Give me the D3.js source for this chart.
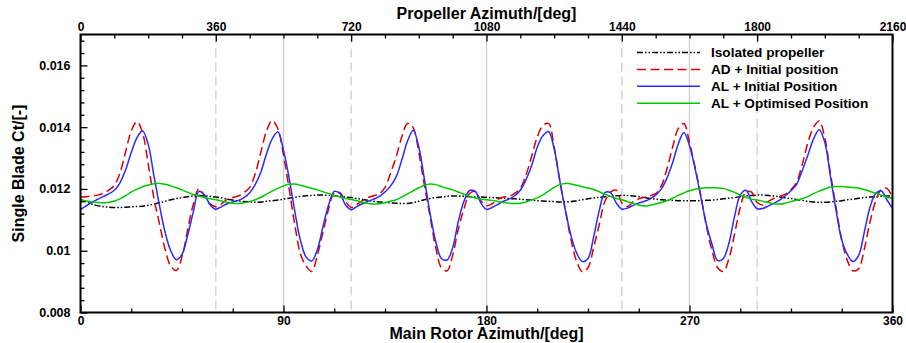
<!DOCTYPE html>
<html>
<head>
<meta charset="utf-8">
<script src="https://cdn.jsdelivr.net/npm/d3@7"></script>
<style>
  html, body { margin: 0; padding: 0; background: #fff; }
  svg { display: block; font-family: "Liberation Sans", Arial, Helvetica, sans-serif; font-weight: bold; }
</style>
</head>
<body>
<svg id="chart" width="906" height="343"></svg>
<script>
// Main rotor azimuth grid [deg], one sample every 2.5 deg
const rotorAzimuth = d3.range(0, 360.001, 2.5);

// Single blade thrust coefficient, one row per 60 deg of main rotor azimuth
const isolatedPropeller = [
  0.01166,0.01158,0.01151,0.01146,0.01143,0.01141,0.01140,0.01140,0.01141,0.01142,0.01143,0.01144,0.01147,0.01151,0.01155,0.01160,0.01165,0.01169,0.01172,0.01175,0.01177,0.01179,0.01178,0.01176,
  0.01174,0.01171,0.01167,0.01164,0.01161,0.01159,0.01158,0.01157,0.01158,0.01160,0.01162,0.01164,0.01167,0.01170,0.01173,0.01176,0.01178,0.01179,0.01180,0.01180,0.01179,0.01178,0.01176,0.01174,
  0.01172,0.01169,0.01166,0.01163,0.01160,0.01158,0.01156,0.01155,0.01154,0.01153,0.01153,0.01156,0.01160,0.01165,0.01169,0.01172,0.01174,0.01176,0.01177,0.01177,0.01176,0.01175,0.01174,0.01174,
  0.01173,0.01172,0.01171,0.01170,0.01169,0.01168,0.01167,0.01165,0.01164,0.01162,0.01161,0.01160,0.01159,0.01158,0.01158,0.01159,0.01162,0.01165,0.01168,0.01171,0.01173,0.01175,0.01177,0.01178,
  0.01179,0.01179,0.01177,0.01175,0.01172,0.01169,0.01167,0.01165,0.01164,0.01163,0.01162,0.01162,0.01162,0.01162,0.01162,0.01163,0.01164,0.01166,0.01168,0.01170,0.01172,0.01175,0.01177,0.01179,
  0.01180,0.01180,0.01179,0.01177,0.01174,0.01171,0.01169,0.01166,0.01163,0.01160,0.01158,0.01157,0.01157,0.01158,0.01160,0.01162,0.01165,0.01167,0.01170,0.01172,0.01174,0.01175,0.01176,0.01177,
  0.01178
];

const adInitial = [
  0.01174,0.01175,0.01177,0.01180,0.01186,0.01196,0.01212,0.01252,0.01320,0.01388,0.01418,0.01382,0.01282,0.01172,0.01088,0.01005,0.00950,0.00936,0.00980,0.01068,0.01150,0.01200,0.01178,0.01152,
  0.01142,0.01152,0.01166,0.01172,0.01177,0.01188,0.01205,0.01250,0.01320,0.01388,0.01422,0.01395,0.01310,0.01200,0.01085,0.00990,0.00950,0.00933,0.00985,0.01060,0.01135,0.01188,0.01188,0.01160,
  0.01140,0.01150,0.01162,0.01172,0.01178,0.01184,0.01205,0.01252,0.01305,0.01370,0.01412,0.01398,0.01318,0.01210,0.01110,0.01010,0.00945,0.00935,0.00985,0.01070,0.01135,0.01185,0.01192,0.01162,
  0.01146,0.01152,0.01166,0.01174,0.01176,0.01186,0.01202,0.01245,0.01305,0.01368,0.01405,0.01412,0.01335,0.01228,0.01130,0.01035,0.00965,0.00932,0.00945,0.01010,0.01085,0.01160,0.01190,0.01196,
  0.01155,0.01143,0.01158,0.01168,0.01173,0.01178,0.01185,0.01210,0.01265,0.01335,0.01395,0.01412,0.01350,0.01270,0.01180,0.01080,0.01000,0.00945,0.00933,0.00975,0.01055,0.01140,0.01190,0.01190,
  0.01156,0.01148,0.01160,0.01170,0.01176,0.01183,0.01198,0.01222,0.01280,0.01350,0.01400,0.01420,0.01365,0.01250,0.01140,0.01035,0.00968,0.00935,0.00942,0.01005,0.01092,0.01160,0.01198,0.01202,
  0.01172
];

const alInitial = [
  0.01133,0.01145,0.01157,0.01166,0.01175,0.01184,0.01196,0.01220,0.01262,0.01318,0.01365,0.01388,0.01345,0.01245,0.01147,0.01060,0.01000,0.00971,0.00988,0.01050,0.01125,0.01192,0.01180,0.01148,
  0.01134,0.01143,0.01152,0.01158,0.01163,0.01172,0.01188,0.01215,0.01255,0.01315,0.01362,0.01385,0.01325,0.01235,0.01128,0.01034,0.00980,0.00967,0.01003,0.01078,0.01148,0.01192,0.01185,0.01148,
  0.01133,0.01143,0.01152,0.01160,0.01167,0.01176,0.01190,0.01210,0.01240,0.01295,0.01355,0.01390,0.01335,0.01230,0.01120,0.01030,0.00975,0.00970,0.01010,0.01095,0.01160,0.01195,0.01192,0.01155,
  0.01134,0.01140,0.01150,0.01160,0.01167,0.01178,0.01196,0.01230,0.01275,0.01335,0.01372,0.01386,0.01330,0.01225,0.01130,0.01048,0.00992,0.00965,0.00975,0.01045,0.01130,0.01188,0.01188,0.01155,
  0.01135,0.01138,0.01147,0.01154,0.01160,0.01168,0.01180,0.01200,0.01235,0.01285,0.01345,0.01383,0.01340,0.01265,0.01175,0.01085,0.01020,0.00968,0.00975,0.01025,0.01112,0.01180,0.01196,0.01160,
  0.01136,0.01137,0.01145,0.01154,0.01164,0.01178,0.01194,0.01215,0.01260,0.01310,0.01362,0.01392,0.01350,0.01240,0.01130,0.01035,0.00988,0.00965,0.00985,0.01060,0.01140,0.01185,0.01194,0.01165,
  0.01137
];

const alOptimised = [
  0.01164,0.01161,0.01158,0.01156,0.01155,0.01157,0.01161,0.01168,0.01178,0.01190,0.01199,0.01207,0.01213,0.01217,0.01218,0.01215,0.01210,0.01204,0.01197,0.01189,0.01182,0.01177,0.01172,0.01168,
  0.01165,0.01161,0.01157,0.01154,0.01153,0.01155,0.01159,0.01165,0.01173,0.01183,0.01193,0.01202,0.01210,0.01215,0.01216,0.01212,0.01207,0.01202,0.01197,0.01191,0.01185,0.01179,0.01174,0.01169,
  0.01166,0.01162,0.01157,0.01153,0.01151,0.01152,0.01155,0.01160,0.01165,0.01174,0.01184,0.01194,0.01204,0.01212,0.01216,0.01214,0.01208,0.01202,0.01197,0.01190,0.01183,0.01176,0.01171,0.01167,
  0.01165,0.01163,0.01159,0.01156,0.01154,0.01153,0.01154,0.01158,0.01164,0.01171,0.01181,0.01193,0.01205,0.01214,0.01218,0.01216,0.01212,0.01207,0.01203,0.01198,0.01191,0.01183,0.01176,0.01169,
  0.01165,0.01159,0.01153,0.01148,0.01145,0.01147,0.01151,0.01156,0.01162,0.01170,0.01179,0.01187,0.01194,0.01199,0.01202,0.01204,0.01204,0.01203,0.01201,0.01196,0.01189,0.01180,0.01173,0.01167,
  0.01164,0.01160,0.01156,0.01152,0.01151,0.01154,0.01159,0.01164,0.01168,0.01175,0.01185,0.01193,0.01200,0.01206,0.01208,0.01208,0.01206,0.01205,0.01203,0.01198,0.01192,0.01186,0.01180,0.01174,
  0.01169
];

// Axis ticks and labels
const yTicks = [0.008, 0.010, 0.012, 0.014, 0.016];
const yTickLabels = ["0.008", "0.01", "0.012", "0.014", "0.016"];
const yMinorTicks = [0.0084,0.0088,0.0092,0.0096,0.0104,0.0108,0.0112,0.0116,0.0124,0.0128,0.0132,0.0136,0.0144,0.0148,0.0152,0.0156,0.0164,0.0168];
const rotorTicks = [0, 90, 180, 270, 360];
const rotorMinorTicks = [22.5, 45, 67.5, 112.5, 135, 157.5, 202.5, 225, 247.5, 292.5, 315, 337.5];
const propellerTicks = [0, 360, 720, 1080, 1440, 1800, 2160];
const propellerMinorTicks = [90,180,270,450,540,630,810,900,990,1170,1260,1350,1530,1620,1710,1890,1980,2070];
const rotorGrid = [90, 180, 270];
const propellerGrid = [360, 720, 1440, 1800];

const seriesNames = ["Isolated propeller", "AD + Initial position", "AL + Initial Position", "AL + Optimised Position"];
const seriesValues = [isolatedPropeller, adInitial, alInitial, alOptimised];
const seriesColors = ["#000000", "#dd0000", "#2a2aff", "#00c800"];
const seriesDashes = ["6,2,1.5,2,1.5,2", "9,4.5", null, null];

const svg = d3.select("#chart");
const plotLeft = 80.5, plotRight = 892.5, plotTop = 34.5, plotBottom = 312.5;

const x = d3.scaleLinear().domain([0, 360]).range([plotLeft, plotRight]);
const xProp = d3.scaleLinear().domain([0, 2160]).range([plotLeft, plotRight]);
const y = d3.scaleLinear().domain([0.008, 0.017]).range([plotBottom, plotTop]);

// Vertical reference lines
const grid = svg.append("g");
grid.selectAll("line.rotor").data(rotorGrid).join("line")
  .attr("class", "rotor")
  .attr("x1", d => x(d)).attr("x2", d => x(d))
  .attr("y1", plotTop).attr("y2", plotBottom)
  .attr("stroke", "#cdcdcd").attr("stroke-width", 1.3);
grid.selectAll("line.prop").data(propellerGrid).join("line")
  .attr("class", "prop")
  .attr("x1", d => xProp(d)).attr("x2", d => xProp(d))
  .attr("y1", plotTop).attr("y2", plotBottom)
  .attr("stroke", "#cdcdcd").attr("stroke-width", 1.3)
  .attr("stroke-dasharray", "9,5");

// Curves
svg.append("clipPath").attr("id", "plot-clip")
  .append("rect").attr("x", plotLeft).attr("y", plotTop)
  .attr("width", plotRight - plotLeft).attr("height", plotBottom - plotTop);

const line = d3.line()
  .x((d, i) => x(rotorAzimuth[i]))
  .y(d => y(d))
  .curve(d3.curveCatmullRom.alpha(0.5));

const curves = svg.append("g").attr("clip-path", "url(#plot-clip)");
seriesValues.forEach((vals, k) => {
  curves.append("path")
    .datum(vals)
    .attr("d", line)
    .attr("fill", "none")
    .attr("stroke", seriesColors[k])
    .attr("stroke-width", 1.5)
    .attr("stroke-dasharray", seriesDashes[k]);
});

// Axes
function styleAxis(g, fontSize) {
  g.select(".domain").remove();
  g.selectAll(".tick line").attr("stroke", "#000").attr("stroke-width", 1.3);
  g.selectAll(".tick text").attr("fill", "#000")
    .style("font-family", "'Liberation Sans', Arial, sans-serif")
    .style("font-weight", "bold").style("font-size", fontSize + "px");
}

svg.append("g").attr("transform", `translate(${plotLeft},0)`)
  .call(d3.axisLeft(y).tickValues(yTicks).tickFormat((d, i) => yTickLabels[i]).tickSize(-7).tickPadding(10))
  .call(g => styleAxis(g, 12.5));
svg.append("g").attr("transform", `translate(${plotLeft},0)`)
  .call(d3.axisLeft(y).tickValues(yMinorTicks).tickFormat("").tickSize(-4))
  .call(g => styleAxis(g, 12));

svg.append("g").attr("transform", `translate(0,${plotBottom})`)
  .call(d3.axisBottom(x).tickValues(rotorTicks).tickFormat(d3.format("d")).tickSize(-7).tickPadding(3.5))
  .call(g => styleAxis(g, 12));
svg.append("g").attr("transform", `translate(0,${plotBottom})`)
  .call(d3.axisBottom(x).tickValues(rotorMinorTicks).tickFormat("").tickSize(-4))
  .call(g => styleAxis(g, 12));

svg.append("g").attr("transform", `translate(0,${plotTop})`)
  .call(d3.axisTop(xProp).tickValues(propellerTicks).tickFormat(d3.format("d")).tickSize(-7).tickPadding(3.5))
  .call(g => styleAxis(g, 12));
svg.append("g").attr("transform", `translate(0,${plotTop})`)
  .call(d3.axisTop(xProp).tickValues(propellerMinorTicks).tickFormat("").tickSize(-4))
  .call(g => styleAxis(g, 12));

// Frame
svg.append("rect")
  .attr("x", plotLeft).attr("y", plotTop)
  .attr("width", plotRight - plotLeft).attr("height", plotBottom - plotTop)
  .attr("fill", "none").attr("stroke", "#000").attr("stroke-width", 2);

// Axis titles
svg.append("text")
  .attr("x", (plotLeft + plotRight) / 2).attr("y", 19)
  .attr("text-anchor", "middle").style("font-size", "16px")
  .text("Propeller Azimuth/[deg]");
svg.append("text")
  .attr("x", (plotLeft + plotRight) / 2).attr("y", 338.5)
  .attr("text-anchor", "middle").style("font-size", "16px")
  .text("Main Rotor Azimuth/[deg]");
svg.append("text")
  .attr("transform", `translate(23.5,${(plotTop + plotBottom) / 2}) rotate(-90)`)
  .attr("text-anchor", "middle").style("font-size", "16px")
  .text("Single Blade Ct/[-]");

// Legend
const legend = svg.append("g");
seriesNames.forEach((name, k) => {
  const ly = 52.5 + k * 16.9;
  legend.append("line")
    .attr("x1", 637).attr("x2", 700).attr("y1", ly).attr("y2", ly)
    .attr("stroke", seriesColors[k]).attr("stroke-width", 1.5)
    .attr("stroke-dasharray", seriesDashes[k]);
  legend.append("text")
    .attr("x", 711).attr("y", ly).attr("dy", "0.36em")
    .style("font-size", "13.6px")
    .text(name);
});
</script>
</body>
</html>
